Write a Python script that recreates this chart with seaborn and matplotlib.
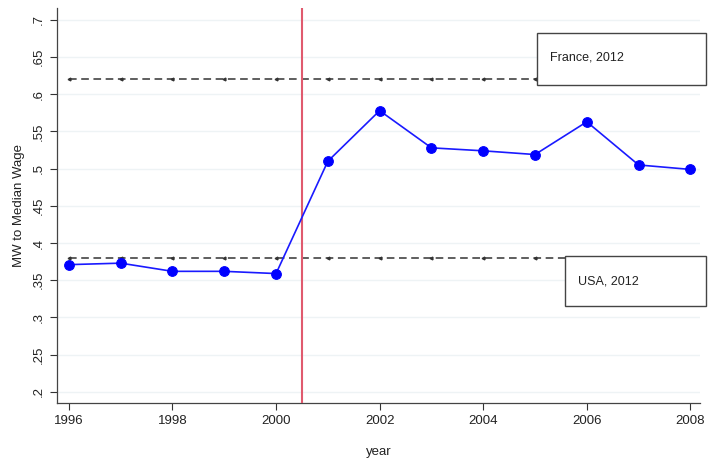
import numpy as np
import pandas as pd
import matplotlib
matplotlib.use("Agg")
import matplotlib.pyplot as plt
import seaborn as sns
from matplotlib.patches import Rectangle

# data
years = [1996, 1997, 1998, 1999, 2000, 2001, 2002, 2003, 2004, 2005, 2006, 2007, 2008]
mw_ratio = [0.371, 0.373, 0.362, 0.362, 0.359, 0.510, 0.578, 0.528, 0.524, 0.519, 0.563, 0.505, 0.499]
france_2012 = 0.62
usa_2012 = 0.38
reform_year = 2000.5
y_ticks = [0.2, 0.25, 0.3, 0.35, 0.4, 0.45, 0.5, 0.55, 0.6, 0.65, 0.7]
y_ticklabels = [".2", ".25", ".3", ".35", ".4", ".45", ".5", ".55", ".6", ".65", ".7"]
x_ticks = [1996, 1998, 2000, 2002, 2004, 2006, 2008]

df = pd.DataFrame({"year": years, "ratio": mw_ratio})

sns.set_style("white")
plt.rcParams['font.family'] = ['Liberation Sans', 'DejaVu Sans']

fig = plt.figure(figsize=(7.08, 4.62), dpi=100)
ax = fig.add_axes([0.0805, 0.1277, 0.9085, 0.855])

# light horizontal grid
for t in y_ticks:
    ax.axhline(t, color="#eef3f5", lw=1, zorder=0)

# reference lines (France / USA in 2012)
fr_years = [y for y in years if y <= 2005]
ax.plot(fr_years + [2005.04], [france_2012] * (len(fr_years) + 1), color="#333333",
        ls=(0, (5, 3)), lw=1.1, marker="<", markersize=2, markevery=list(range(len(fr_years))), zorder=2)
ax.plot(fr_years + [2005.58], [usa_2012] * (len(fr_years) + 1), color="#333333",
        ls=(0, (5, 3)), lw=1.1, marker="<", markersize=2, markevery=list(range(len(fr_years))), zorder=2)

ax.axvline(reform_year, color="#e05a6e", lw=1.5, zorder=3)

sns.lineplot(data=df, x="year", y="ratio", ax=ax, color="#1a1aff", lw=1.2,
             marker="o", markersize=7, markeredgecolor="#0000ff", markerfacecolor="#0000ff", zorder=4)

# label boxes
ax.add_patch(Rectangle((2005.04, 0.6126), 3.27, 0.0699, facecolor="white",
                       edgecolor="#444444", lw=1, clip_on=False, zorder=5))
ax.text(2005.29, 0.649, "France, 2012", fontsize=9, va="center", ha="left", color="#222222", zorder=6)
ax.add_patch(Rectangle((2005.58, 0.3156), 2.73, 0.0672, facecolor="white",
                       edgecolor="#444444", lw=1, clip_on=False, zorder=5))
ax.text(2005.83, 0.348, "USA, 2012", fontsize=9, va="center", ha="left", color="#222222", zorder=6)

ax.set_xlim(1995.77, 2008.19)
ax.set_ylim(0.185, 0.716)
ax.set_yticks(y_ticks)
ax.set_yticklabels(y_ticklabels, rotation=90, va="center")
ax.set_xticks(x_ticks)
ax.tick_params(axis="both", direction="out", length=5, width=0.8, color="#333333",
               labelsize=9.5, labelcolor="#222222", left=True, bottom=True)
ax.set_xlabel("year", fontsize=9.5, color="#222222", labelpad=14)
ax.set_ylabel("MW to Median Wage", fontsize=9.5, color="#222222", labelpad=6)

sns.despine(ax=ax, top=True, right=True)
for s in ["left", "bottom"]:
    ax.spines[s].set_color("#444444")
    ax.spines[s].set_linewidth(0.9)

fig.savefig("out.png", dpi=100)
